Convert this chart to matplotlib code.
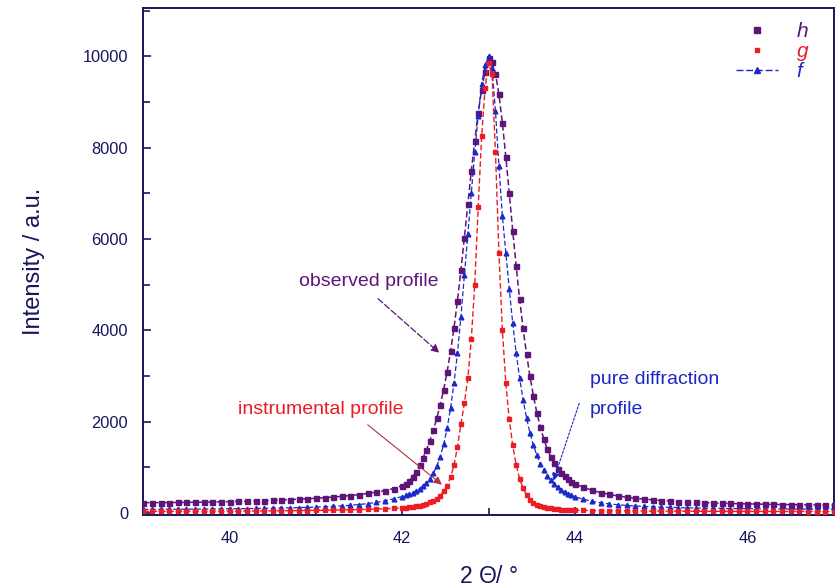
import numpy as np
import matplotlib
matplotlib.use("Agg")
import matplotlib.pyplot as plt
from matplotlib.lines import Line2D
from matplotlib.ticker import MultipleLocator

plt.rcParams['font.family'] = ['Liberation Sans', 'DejaVu Sans']
plt.rcParams['mathtext.fontset'] = 'custom'
plt.rcParams['mathtext.rm'] = 'Liberation Sans'
plt.rcParams['mathtext.it'] = 'Liberation Sans:italic'

# ---- data (2theta sampling + three profiles) ----
two_theta = np.round(np.concatenate([
    np.arange(39.0, 41.95, 0.1),
    np.arange(42.0, 43.99, 0.04),
    np.arange(44.0, 47.05, 0.1)]), 2)

h_observed = [
    225, 226, 227, 228, 230, 232, 234, 237, 240, 244,
    248, 252, 257, 263, 269, 276, 284, 292, 301, 311,
    322, 334, 348, 364, 382, 403, 428, 456, 490, 535,
    600, 640, 705, 790, 900, 1040, 1200, 1380, 1580, 1810,
    2070, 2370, 2700, 3090, 3540, 4060, 4650, 5320, 6030, 6760,
    7480, 8150, 8760, 9270, 9660,
    9950, 9880, 9620, 9170, 8540, 7800, 7000, 6180, 5400, 4680,
    4040, 3480, 2990, 2560, 2190, 1880, 1620, 1400, 1230, 1090,
    970, 875, 800, 735, 685,
    640, 560, 495, 445, 405, 372, 345, 322, 303, 287,
    273, 261, 250, 241, 233, 226, 219, 213, 208, 203,
    199, 195, 191, 188, 185, 182, 179, 177, 175, 173, 171]

g_instrumental = [
    35, 35, 36, 36, 37, 37, 38, 38, 39, 40,
    41, 42, 43, 44, 45, 46, 48, 50, 52, 54,
    56, 59, 62, 66, 70, 75, 80, 86, 93, 100,
    108, 115, 123, 133, 145, 160, 178, 200, 230, 265,
    310, 380, 480, 600, 780, 1050, 1450, 1950, 2400, 2950,
    3800, 5000, 6700, 8250, 9300,
    9850, 9600, 7900, 5700, 4000, 2850, 2050, 1480, 1050, 750,
    540, 390, 290, 225, 180, 150, 128, 112, 100, 90,
    82, 76, 71, 67, 63,
    60, 56, 52, 49, 47, 45, 43, 42, 41, 40,
    39, 38, 38, 37, 37, 36, 36, 35, 35, 35,
    34, 34, 34, 33, 33, 33, 33, 32, 32, 32, 32]

f_pure = [
    78, 79, 80, 81, 82, 83, 85, 86, 88, 90,
    92, 94, 96, 99, 102, 105, 109, 113, 118, 123,
    129, 136, 145, 155, 168, 185, 205, 230, 265, 310,
    360, 385, 410, 440, 480, 530, 590, 660, 750, 870,
    1020, 1230, 1500, 1850, 2300, 2850, 3500, 4300, 5200, 6100,
    7000, 7900, 8700, 9400, 9800,
    10000, 9750, 8800, 7600, 6500, 5700, 4900, 4150, 3500, 2950,
    2480, 2080, 1750, 1480, 1260, 1080, 940, 820, 720, 640,
    570, 510, 460, 420, 385,
    355, 300, 255, 222, 198, 180, 165, 153, 143, 135,
    128, 122, 117, 112, 108, 105, 102, 99, 97, 95,
    93, 91, 89, 88, 86, 85, 84, 83, 82, 81, 80]

legend_labels = ['h', 'g', 'f']

NAVY = '#16165c'
PURPLE = '#5e1577'
RED = '#ec1c24'
BLUE = '#1c28c8'

fig = plt.figure(figsize=(8.38, 5.87), dpi=100)
ax = fig.add_axes([0.171, 0.123, 0.824, 0.863])

ax.plot(two_theta, h_observed, ls=(0, (4, 2)), lw=1.1, color=PURPLE,
        marker='s', ms=3.6, mec=PURPLE, mfc=PURPLE, zorder=3)
ax.plot(two_theta, f_pure, ls=(0, (4, 2)), lw=0.9, color=BLUE,
        marker='^', ms=3.4, mec=BLUE, mfc=BLUE, zorder=4)
ax.plot(two_theta, g_instrumental, ls=(0, (4, 2)), lw=1.0, color=RED,
        marker='s', ms=2.8, mec=RED, mfc=RED, zorder=5)

ax.set_xlim(39, 47)
ax.set_ylim(-40, 11050)
ax.xaxis.set_major_locator(MultipleLocator(2))
ax.xaxis.set_minor_locator(MultipleLocator(1))
ax.yaxis.set_major_locator(MultipleLocator(2000))
ax.yaxis.set_minor_locator(MultipleLocator(1000))
ax.tick_params(which='both', direction='in', color=NAVY, width=1.2,
               labelcolor=NAVY, labelsize=11.8)
ax.tick_params(which='major', length=6)
ax.tick_params(which='minor', length=5)
ax.tick_params(axis='x', which='major', pad=12)
ax.tick_params(axis='y', which='major', pad=11)
for s in ax.spines.values():
    s.set_color(NAVY)
    s.set_linewidth(1.4)

ax.set_ylabel('Intensity / a.u.', color=NAVY, fontsize=17, labelpad=27)
ax.set_xlabel(r'2 $\mathit{\Theta}$/ °', color=NAVY, fontsize=16.5, labelpad=13)

# legend
handles = [
    Line2D([], [], ls='none', marker='s', ms=4, color=PURPLE),
    Line2D([], [], ls='none', marker='s', ms=2.5, color=RED),
    Line2D([], [], ls=(0, (5, 2)), lw=1.0, marker='^', ms=4, color=BLUE),
]
leg = ax.legend(handles, legend_labels, loc='upper right', frameon=False,
                bbox_to_anchor=(0.99, 1.01), handlelength=2.0,
                labelspacing=0.05, handletextpad=0.9,
                prop={'style': 'italic', 'size': 15}, labelcolor='linecolor')

# annotations
ax.text(40.80, 5060, 'observed profile', color=PURPLE, fontsize=14,
        ha='left', va='center')
ax.annotate('', xy=(42.43, 3505), xytext=(41.72, 4690),
            arrowprops=dict(arrowstyle='-|>', color=PURPLE, lw=0.9,
                            ls=(0, (5, 2)), shrinkA=0, shrinkB=0,
                            mutation_scale=12))
ax.text(40.1, 2270, 'instrumental profile', color=RED, fontsize=14,
        ha='left', va='center')
ax.annotate('', xy=(42.46, 620), xytext=(41.6, 1930),
            arrowprops=dict(arrowstyle='-|>', color='#b03040', lw=0.8,
                            shrinkA=0, shrinkB=0, mutation_scale=12))
ax.text(44.17, 2920, 'pure diffraction', color=BLUE, fontsize=14,
        ha='left', va='center')
ax.text(44.17, 2270, 'profile', color=BLUE, fontsize=14,
        ha='left', va='center')
ax.annotate('', xy=(43.75, 700), xytext=(44.05, 2400),
            arrowprops=dict(arrowstyle='-|>', color=BLUE, lw=0.8,
                            ls=(0, (2, 1.5)), shrinkA=0, shrinkB=0,
                            mutation_scale=12))

fig.savefig('out.png', dpi=100)
